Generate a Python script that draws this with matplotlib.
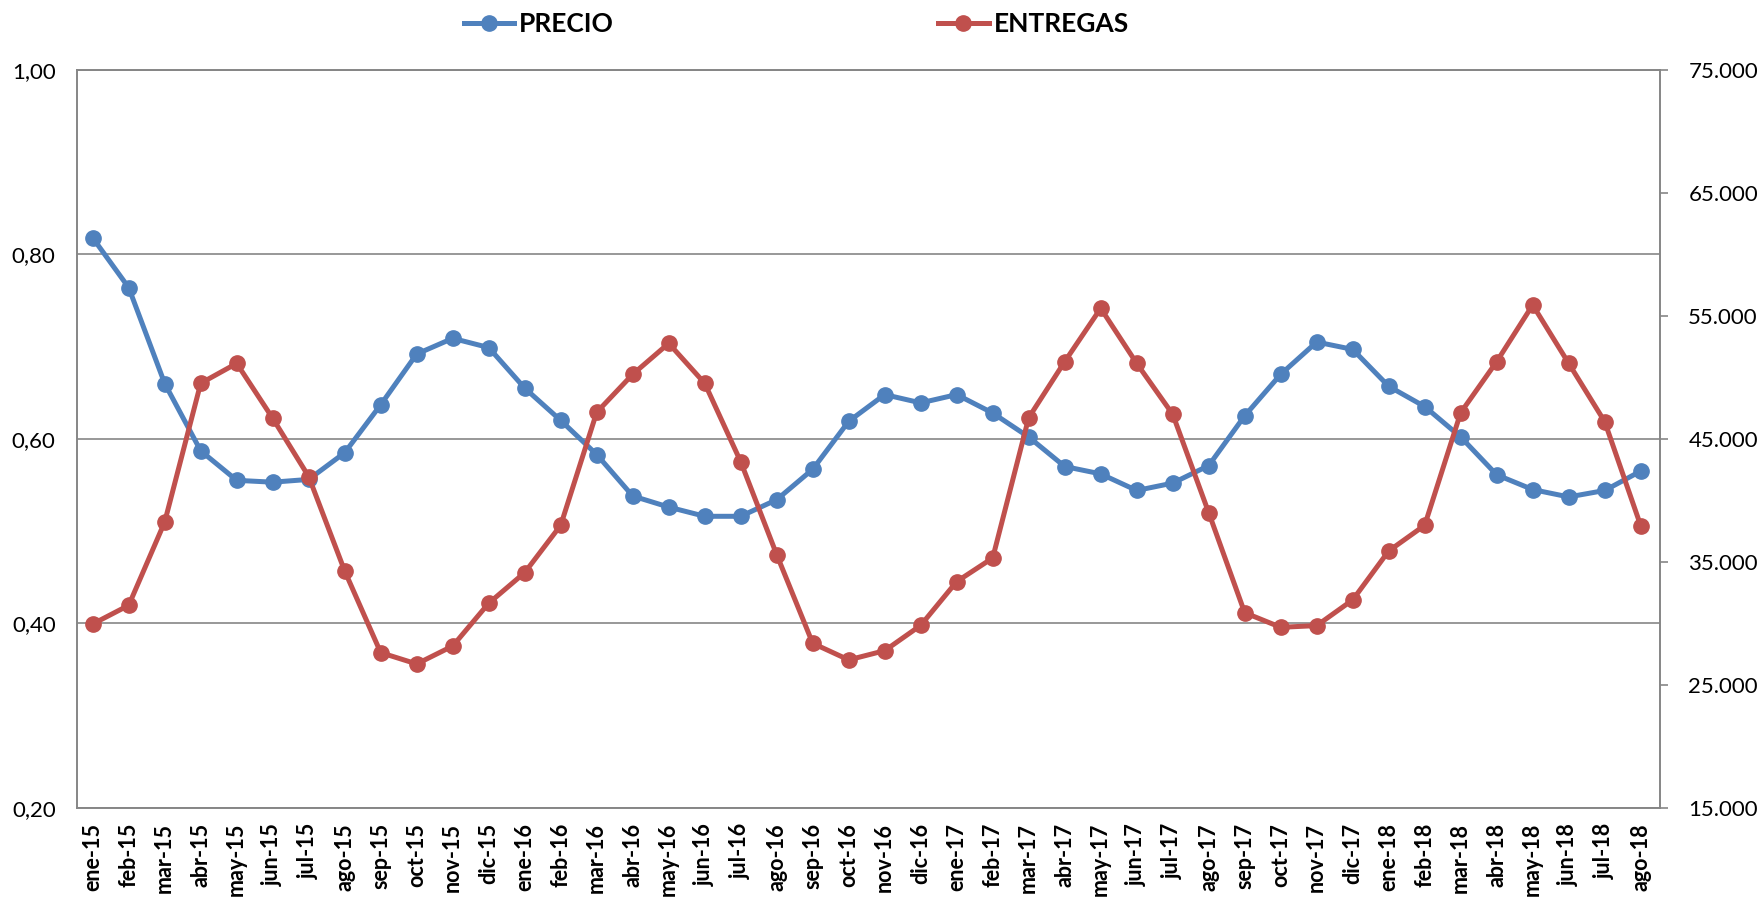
import matplotlib
matplotlib.use('Agg')
import matplotlib.pyplot as plt
from matplotlib.ticker import FuncFormatter, FixedLocator, MultipleLocator

plt.rcParams['font.family'] = ['Lato', 'DejaVu Sans']

# Data
meses = ['ene-15', 'feb-15', 'mar-15', 'abr-15', 'may-15', 'jun-15', 'jul-15', 'ago-15',
         'sep-15', 'oct-15', 'nov-15', 'dic-15',
         'ene-16', 'feb-16', 'mar-16', 'abr-16', 'may-16', 'jun-16', 'jul-16', 'ago-16',
         'sep-16', 'oct-16', 'nov-16', 'dic-16',
         'ene-17', 'feb-17', 'mar-17', 'abr-17', 'may-17', 'jun-17', 'jul-17', 'ago-17',
         'sep-17', 'oct-17', 'nov-17', 'dic-17',
         'ene-18', 'feb-18', 'mar-18', 'abr-18', 'may-18', 'jun-18', 'jul-18', 'ago-18']

precio = [0.818, 0.764, 0.660, 0.587, 0.555, 0.553, 0.556, 0.585,
          0.637, 0.692, 0.709, 0.699,
          0.655, 0.620, 0.583, 0.538, 0.526, 0.516, 0.516, 0.534,
          0.567, 0.619, 0.648, 0.639,
          0.648, 0.628, 0.602, 0.570, 0.562, 0.544, 0.552, 0.571,
          0.625, 0.670, 0.705, 0.697,
          0.657, 0.635, 0.602, 0.561, 0.545, 0.537, 0.544, 0.565]

entregas = [29940, 31460, 38240, 49520, 51140, 46670, 41930, 34250,
            27610, 26690, 28150, 31630,
            34120, 37970, 47160, 50250, 52770, 49520, 43140, 35580,
            28370, 27020, 27770, 29830,
            33390, 35310, 46720, 51280, 55620, 51140, 47000, 39000,
            30860, 29670, 29810, 31900,
            35880, 37970, 47130, 51280, 55890, 51140, 46400, 37940]

ticks_entregas = [15000, 25000, 35000, 45000, 55000, 65000, 75000]

AZUL = '#4F81BD'
ROJO = '#C0504D'
GRIS = '#868686'

fig = plt.figure(figsize=(17.59, 8.99), dpi=100)
ax1 = fig.add_axes([0.0435, 0.1016, 0.9005, 0.8205])
ax2 = ax1.twinx()

x = list(range(len(meses)))
l1, = ax1.plot(x, precio, color=AZUL, linewidth=3.6, marker='o', markersize=11,
               label='PRECIO', zorder=3)
l2, = ax2.plot(x, entregas, color=ROJO, linewidth=3.6, marker='o', markersize=11,
               label='ENTREGAS', zorder=3)

# Left axis
ax1.set_ylim(0.2, 1.0)
ax1.yaxis.set_major_locator(MultipleLocator(0.2))
ax1.yaxis.set_major_formatter(FuncFormatter(lambda v, p: f"{v:.2f}".replace('.', ',')))
ax1.grid(True, axis='y', color=GRIS, linewidth=1.2)
ax1.set_axisbelow(True)
ax1.tick_params(axis='y', length=0, pad=15, labelsize=16)

# Right axis
ax2.set_ylim(15000, 75000)
ax2.yaxis.set_major_locator(FixedLocator(ticks_entregas))
ax2.yaxis.set_major_formatter(FuncFormatter(lambda v, p: f"{int(v):,}".replace(',', '.')))
ax2.tick_params(axis='y', length=6, width=1.2, color=GRIS, pad=14, labelsize=16)

# Category axis
ax1.set_xlim(-0.45, 43.55)
ax1.set_xticks(x)
ax1.set_xticklabels(meses, rotation=90, fontweight='bold', fontsize=15.5)
ax1.tick_params(axis='x', length=0, pad=11)

for ax in (ax1, ax2):
    for s in ax.spines.values():
        s.set_color(GRIS)
        s.set_linewidth(1.2)

fig.legend(handles=[l1, l2], loc='center', bbox_to_anchor=(0.4527, 0.973),
           ncol=2, frameon=False, handlelength=1.9, handletextpad=0.2,
           columnspacing=12.3, prop={'weight': 'bold', 'size': 19})

fig.savefig('out.png', dpi=100)
